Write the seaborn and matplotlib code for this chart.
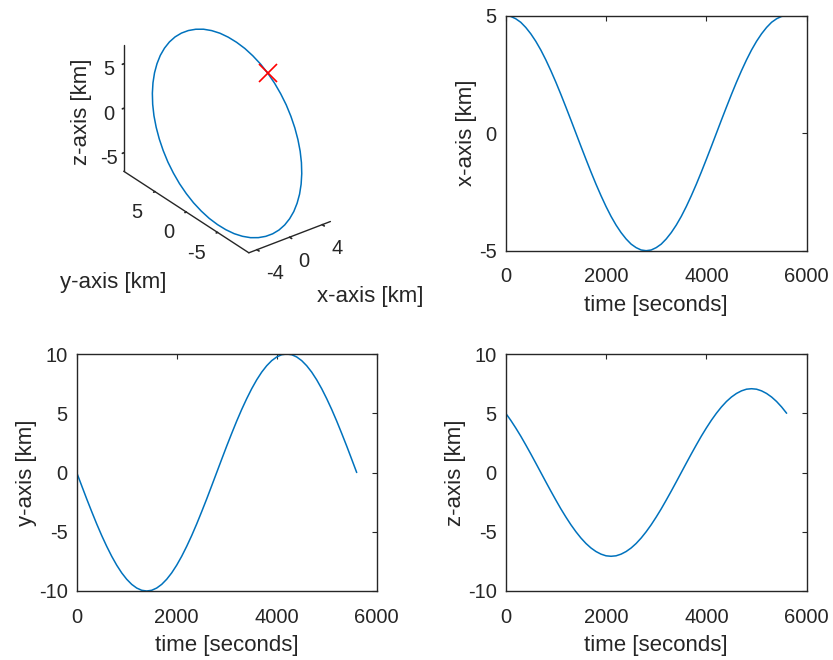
import numpy as np
import pandas as pd
import matplotlib
matplotlib.use("Agg")
import matplotlib.pyplot as plt
import seaborn as sns

time_s = [0, 100, 200, 300, 400, 500, 600, 700, 800, 900, 1000, 1100, 1200, 1300,
          1400, 1500, 1600, 1700, 1800, 1900, 2000, 2100, 2200, 2300, 2400, 2500,
          2600, 2700, 2800, 2900, 3000, 3100, 3200, 3300, 3400, 3500, 3600, 3700,
          3800, 3900, 4000, 4100, 4200, 4300, 4400, 4500, 4600, 4700, 4800, 4900,
          5000, 5100, 5200, 5300, 5400, 5500, 5600]
x_km = [5.00, 4.97, 4.87, 4.72, 4.50, 4.23, 3.91, 3.54, 3.12, 2.66, 2.17, 1.65,
        1.11, 0.56, 0.00, -0.56, -1.11, -1.65, -2.17, -2.66, -3.12, -3.54, -3.91,
        -4.23, -4.50, -4.72, -4.87, -4.97, -5.00, -4.97, -4.87, -4.72, -4.50,
        -4.23, -3.91, -3.54, -3.12, -2.66, -2.17, -1.65, -1.11, -0.56, 0.00, 0.56,
        1.11, 1.65, 2.17, 2.66, 3.12, 3.54, 3.91, 4.23, 4.50, 4.72, 4.87, 4.97,
        5.00]
y_km = [0.00, -1.12, -2.23, -3.30, -4.34, -5.32, -6.23, -7.07, -7.82, -8.47, -9.01,
        -9.44, -9.75, -9.94, -10.00, -9.94, -9.75, -9.44, -9.01, -8.47, -7.82,
        -7.07, -6.23, -5.32, -4.34, -3.30, -2.23, -1.12, 0.00, 1.12, 2.23, 3.30,
        4.34, 5.32, 6.23, 7.07, 7.82, 8.47, 9.01, 9.44, 9.75, 9.94, 10.00, 9.94,
        9.75, 9.44, 9.01, 8.47, 7.82, 7.07, 6.23, 5.32, 4.34, 3.30, 2.23, 1.12,
        0.00]
z_km = [5.00, 4.41, 3.76, 3.07, 2.33, 1.57, 0.79, 0.00, -0.79, -1.57, -2.33, -3.07,
        -3.76, -4.41, -5.00, -5.53, -5.99, -6.37, -6.67, -6.89, -7.03, -7.07,
        -7.03, -6.89, -6.67, -6.37, -5.99, -5.53, -5.00, -4.41, -3.76, -3.07,
        -2.33, -1.57, -0.79, 0.00, 0.79, 1.57, 2.33, 3.07, 3.76, 4.41, 5.00, 5.53,
        5.99, 6.37, 6.67, 6.89, 7.03, 7.07, 7.03, 6.89, 6.67, 6.37, 5.99, 5.53,
        5.00]

time_ticks = [0, 2000, 4000, 6000]
x_ticks = [-5, 0, 5]
y_ticks = [-10, -5, 0, 5, 10]
z_ticks = [-10, -5, 0, 5, 10]
x3d_ticks = [-4, 0, 4]
y3d_ticks = [-5, 0, 5]
z3d_ticks = [-5, 0, 5]

df = pd.DataFrame({"time": time_s, "x": x_km, "y": y_km, "z": z_km})

sns.set_theme(style="white")
plt.rcParams["font.family"] = ["Liberation Sans", "DejaVu Sans"]
FS = 14.5      # tick labels
LFS = 16.0     # axis labels
TXT = "#262626"
LINE = "#0072BD"
plt.rcParams.update({
    "font.size": FS,
    "axes.unicode_minus": False,
    "axes.edgecolor": TXT,
    "axes.labelcolor": TXT,
    "xtick.color": TXT,
    "ytick.color": TXT,
    "text.color": TXT,
})

fig = plt.figure(figsize=(8.33, 6.6), dpi=100)

W, H = 833.0, 660.0


def rect(l, t, r, b):
    return [l / W, 1 - b / H, (r - l) / W, (b - t) / H]


def style2d(ax, xlabel, ylabel, yticks, ylim):
    ax.set_xlim(0, 6000)
    ax.set_ylim(*ylim)
    ax.set_xticks(time_ticks)
    ax.set_yticks(yticks)
    ax.tick_params(direction="in", length=3.5, width=0.8, top=True, right=True,
                   labelsize=FS, pad=6.5)
    ax.tick_params(axis="x", pad=12)
    for s in ax.spines.values():
        s.set_visible(True)
        s.set_linewidth(1.0)
        s.set_color(TXT)
    ax.set_xlabel(xlabel, fontsize=LFS, labelpad=6)
    ax.set_ylabel(ylabel, fontsize=LFS, labelpad=1.5)


# top-right: x vs time
ax2 = fig.add_axes(rect(505.7, 15.7, 806.7, 250.7))
sns.lineplot(data=df, x="time", y="x", ax=ax2, color=LINE, linewidth=1.1)
style2d(ax2, "time [seconds]", "x-axis [km]", x_ticks, (-5, 5))

# bottom-left: y vs time
ax3 = fig.add_axes(rect(76.7, 354, 376.7, 591))
sns.lineplot(data=df, x="time", y="y", ax=ax3, color=LINE, linewidth=1.1)
style2d(ax3, "time [seconds]", "y-axis [km]", y_ticks, (-10, 10))

# bottom-right: z vs time
ax4 = fig.add_axes(rect(505.7, 354, 806.7, 591))
sns.lineplot(data=df, x="time", y="z", ax=ax4, color=LINE, linewidth=1.1)
style2d(ax4, "time [seconds]", "z-axis [km]", z_ticks, (-10, 10))

# top-left: 3D trajectory
ax1 = fig.add_axes(rect(13, -12.5, 433, 287.5), projection="3d")
ax1.plot(df["x"], df["y"], df["z"], color=LINE, linewidth=1.1)
ax1.plot([df["x"][0]], [df["y"][0]], [df["z"][0]], marker="x", color="#FF0000",
         markersize=13, markeredgewidth=1.2, linestyle="none")
ax1.set_proj_type("ortho")
ax1.view_init(elev=30, azim=-127.5)
ax1.set_xlim(-5, 5)
ax1.set_ylim(-10, 10)
ax1.set_zlim(-7.07, 7.07)
ax1.set_box_aspect((10, 20, 14.14), zoom=0.88)
ax1.set_xticks(x3d_ticks, labels=[str(v) for v in x3d_ticks])
ax1.set_yticks(y3d_ticks, labels=[str(v) + " " for v in y3d_ticks])
ax1.set_zticks(z3d_ticks, labels=[str(v) for v in z3d_ticks])
ax1.grid(False)
for axis in (ax1.xaxis, ax1.yaxis, ax1.zaxis):
    axis.pane.set_facecolor((1, 1, 1, 0))
    axis.pane.set_edgecolor((1, 1, 1, 0))
    axis.pane.fill = False
    axis.line.set_color(TXT)
    axis.line.set_linewidth(1.0)
    axis._axinfo["tick"]["inward_factor"] = 0.2
    axis._axinfo["tick"]["outward_factor"] = 0.0
    axis._axinfo["tick"]["color"] = TXT
ax1.tick_params(labelsize=FS, colors=TXT, pad=0)

# MATLAB-like alignment of 3D tick labels
for lab in ax1.get_yticklabels():
    lab.set_horizontalalignment("right")
for lab in ax1.get_xticklabels():
    lab.set_horizontalalignment("left")

fig.text(60 / W, 1 - 283 / H, "y-axis [km]", fontsize=LFS, ha="left", va="center")
fig.text(317 / W, 1 - 297 / H, "x-axis [km]", fontsize=LFS, ha="left", va="center")
fig.text(81 / W, 1 - 112 / H, "z-axis [km]", fontsize=LFS, ha="center", va="center",
         rotation=90)

fig.savefig("out.png", dpi=100, facecolor="white")
